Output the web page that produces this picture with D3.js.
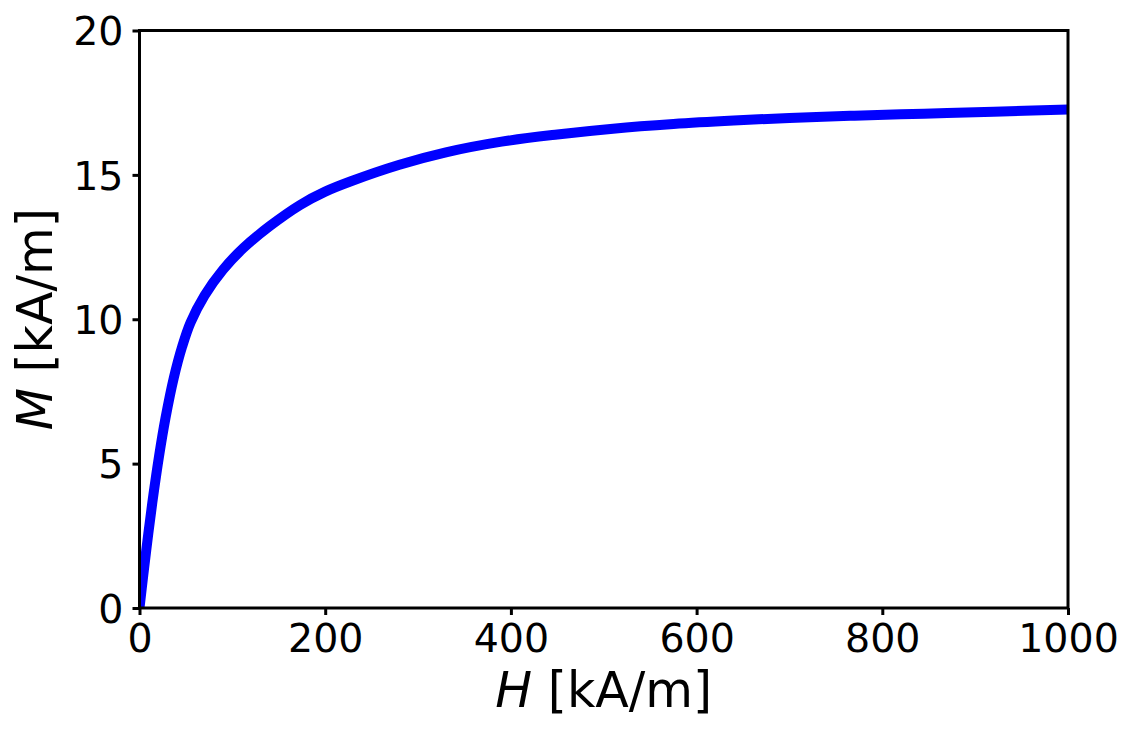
<!DOCTYPE html>
<html>
<head>
<meta charset="utf-8">
<script src="https://cdn.jsdelivr.net/npm/d3@7"></script>
<style>
  body { margin: 0; background: #fff; }
  svg { display: block; }
  text { font-family: "DejaVu Sans", sans-serif; fill: #000; }
</style>
</head>
<body>
<div class="container"></div>
<script>
const w = 1138;
const h = 735;
const margin = { left: 139.5, right: 1138 - 1068, top: 30.5, bottom: 735 - 608 };

// values
const fieldH = [0, 4, 9.5, 15, 21, 28, 37, 46, 55, 70, 90, 112, 140, 173, 200, 227,
    280, 330, 390, 450, 510, 575, 640, 700, 770, 845, 920, 1000];
const magM = [0, 1.12, 2.58, 3.93, 5.25, 6.58, 7.98, 9.06, 9.89, 10.82, 11.72, 12.47, 13.22, 13.96, 14.42, 14.77,
    15.35, 15.78, 16.15, 16.4, 16.6, 16.76, 16.88, 16.97, 17.05, 17.12, 17.19, 17.26];
const xTicks = [0, 200, 400, 600, 800, 1000];
const yTicks = [0, 5, 10, 15, 20];

const svg = d3.select('.container')
    .append('svg')
    .attr('width', w)
    .attr('height', h);

const xScale = d3.scaleLinear()
    .domain([0, 1000])
    .range([margin.left, w - margin.right]);

const yScale = d3.scaleLinear()
    .domain([0, 20])
    .range([h - margin.bottom, margin.top]);

svg.append('clipPath')
    .attr('id', 'plot-clip')
    .append('rect')
    .attr('x', margin.left)
    .attr('y', margin.top)
    .attr('width', w - margin.left - margin.right)
    .attr('height', h - margin.top - margin.bottom);

const line = d3.line()
    .x(d => xScale(d[0]))
    .y(d => yScale(d[1]))
    .curve(d3.curveCatmullRom.alpha(0.5));

svg.append('path')
    .datum(fieldH.map((v, i) => [v, magM[i]]))
    .attr('clip-path', 'url(#plot-clip)')
    .attr('fill', 'none')
    .attr('stroke', '#0000ff')
    .attr('stroke-width', 10)
    .attr('d', line);

const xAxis = d3.axisBottom(xScale).tickValues(xTicks).tickFormat(d3.format('d'))
    .tickSize(7).tickPadding(8);
const yAxis = d3.axisLeft(yScale).tickValues(yTicks).tickFormat(d3.format('d'))
    .tickSize(7).tickPadding(9);

const gx = svg.append('g')
    .attr('transform', `translate(0, ${h - margin.bottom})`)
    .call(xAxis);

const gy = svg.append('g')
    .attr('transform', `translate(${margin.left}, 0)`)
    .call(yAxis);

[gx, gy].forEach(g => {
    g.select('.domain').remove();
    g.selectAll('.tick line').attr('stroke', '#000').attr('stroke-width', 3);
    g.selectAll('.tick text').style('font-size', '39.5px').attr('fill', '#000');
});
gx.selectAll('.tick text').attr('dy', '0.74em');
gy.selectAll('.tick text').attr('dy', '0.36em');

// frame
svg.append('rect')
    .attr('x', margin.left)
    .attr('y', margin.top)
    .attr('width', w - margin.left - margin.right)
    .attr('height', h - margin.top - margin.bottom)
    .attr('fill', 'none')
    .attr('stroke', '#000')
    .attr('stroke-width', 3);

const xLabel = svg.append('text')
    .attr('x', (margin.left + w - margin.right) / 2)
    .attr('y', 707)
    .attr('text-anchor', 'middle')
    .style('font-size', '49px');
xLabel.append('tspan').style('font-style', 'italic').text('H');
xLabel.append('tspan').text(' [kA/m]');

const yLabel = svg.append('text')
    .attr('transform', `translate(52, ${(margin.top + h - margin.bottom) / 2}) rotate(-90)`)
    .attr('text-anchor', 'middle')
    .style('font-size', '49px');
yLabel.append('tspan').style('font-style', 'italic').text('M');
yLabel.append('tspan').text(' [kA/m]');
</script>
</body>
</html>
